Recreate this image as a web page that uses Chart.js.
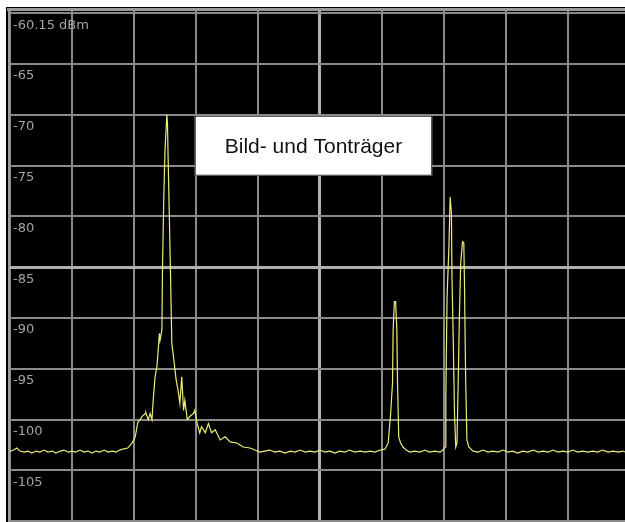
<!DOCTYPE html>
<html>
<head>
<meta charset="utf-8">
<script src="https://cdn.jsdelivr.net/npm/chart.js@4/dist/chart.umd.min.js"></script>
<style>
html,body{margin:0;padding:0;background:#fff;}
#wrap{position:absolute;left:0;top:0;width:625px;height:522px;}
</style>
</head>
<body>
<div id="wrap"><canvas id="c" width="625" height="522"></canvas></div>
<script>
// Sweep bins (1000 bins over 10 divisions)
const bins = [0,6,11,16,23,29,35,42,48,55,61,68,74,81,87,94,100,106,113,119,126,132,139,145,152,158,165,171,177,182,190,197,202,206,213,218,219,223,226,229,231,234,237,241,242,245,246,248,250,253,254,255,257,259,261,265,268,271,274,277,280,282,286,290,296,298,302,306,309,315,320,325,331,339,347,355,366,376,387,395,403,411,419,427,435,444,452,460,468,476,484,492,500,508,516,524,532,540,548,556,565,573,581,589,597,605,610,614,617,618,620,622,624,625,627,630,634,639,645,653,661,669,677,685,694,698,702,703,705,708,710,712,713,715,717,719,721,723,725,727,730,732,733,735,737,740,747,755,763,771,779,787,795,803,811,819,827,835,844,852,860,868,876,884,892,900,908,916,924,932,940,948,956,965,973,981,989,992];
// Level in dBm
const levels = [-103.1,-103.0,-102.8,-103.1,-103.2,-103.1,-103.3,-103.1,-103.2,-103.0,-103.2,-103.1,-103.3,-103.1,-103.0,-103.2,-103.1,-103.2,-103.0,-103.2,-103.1,-103.3,-103.1,-103.2,-103.0,-103.2,-103.1,-103.2,-103.0,-102.9,-102.8,-102.3,-101.7,-100.3,-99.7,-99.4,-99.3,-100.0,-99.4,-100.0,-98.1,-95.8,-94.8,-91.5,-92.2,-91.2,-85.0,-78.4,-73.5,-70.0,-70.8,-74.1,-80.0,-85.9,-92.5,-94.5,-96.1,-97.1,-98.4,-95.8,-99.1,-98.1,-100.0,-99.7,-99.4,-99.1,-100.4,-101.3,-100.7,-101.3,-100.4,-101.3,-101.0,-102.0,-101.7,-102.2,-102.3,-102.7,-102.8,-103.0,-103.2,-103.1,-103.0,-103.2,-103.1,-103.3,-103.1,-103.2,-103.0,-103.2,-103.1,-103.2,-103.0,-103.2,-103.1,-103.3,-103.1,-103.2,-103.0,-103.2,-103.1,-103.2,-103.1,-103.2,-103.0,-102.9,-102.3,-99.4,-96.4,-91.2,-88.4,-88.4,-91.2,-96.1,-101.7,-102.3,-102.7,-103.0,-103.2,-103.1,-103.2,-103.0,-103.2,-103.1,-103.2,-103.0,-102.7,-97.8,-87.9,-83.0,-78.1,-79.7,-86.3,-92.2,-99.4,-102.7,-102.3,-96.1,-89.5,-84.6,-82.5,-82.6,-86.3,-96.1,-102.0,-102.7,-103.1,-103.2,-103.0,-103.2,-103.1,-103.2,-103.0,-103.2,-103.1,-103.3,-103.1,-103.2,-103.0,-103.2,-103.1,-103.2,-103.0,-103.2,-103.1,-103.2,-103.0,-103.2,-103.1,-103.2,-103.1,-103.2,-103.0,-103.2,-103.1,-103.2,-103.1,-103.2];
const yTickValues = [-60,-65,-70,-75,-80,-85,-90,-95,-100,-105,-110];
const yTickLabels = ["-60.15 dBm","-65","-70","-75","-80","-85","-90","-95","-100","-105",""];
const xTickValues = [0,100,200,300,400,500,600,700,800,900];
const annotationText = "Bild- und Tonträger";

const framePlugin = {
  id:'frame',
  beforeDraw(chart){
    const ctx = chart.ctx, a = chart.chartArea;
    ctx.save();
    ctx.fillStyle = '#000';
    ctx.fillRect(a.left-4, a.top-3, chart.width-(a.left-4), chart.height-(a.top-3));
    ctx.restore();
  },
  afterDraw(chart){
    const ctx = chart.ctx, a = chart.chartArea, ys = chart.scales.y, xs = chart.scales.x;
    ctx.save();
    // top and left frame
    ctx.fillStyle = '#9a9a9a';
    ctx.fillRect(a.left-3, a.top-2, chart.width, 3);
    ctx.fillRect(a.left-2, a.top-2, 2, chart.height);
    // y labels inside plot
    ctx.fillStyle = '#a4a4a4';
    ctx.font = '13px "DejaVu Sans", sans-serif';
    ctx.textBaseline = 'middle';
    ctx.textAlign = 'left';
    yTickValues.forEach((v,i)=>{
      if(!yTickLabels[i]) return;
      ctx.fillText(yTickLabels[i], a.left+3, ys.getPixelForValue(v)+12);
    });
    // annotation box
    const x0 = xs.getPixelForValue(298), x1 = xs.getPixelForValue(681);
    const y0 = ys.getPixelForValue(-70.1), y1 = ys.getPixelForValue(-76.0);
    ctx.fillStyle = '#fff';
    ctx.fillRect(x0, y0, x1-x0, y1-y0);
    ctx.strokeStyle = '#333';
    ctx.lineWidth = 1;
    ctx.strokeRect(x0+0.5, y0+0.5, x1-x0-1, y1-y0-1);
    ctx.fillStyle = '#111';
    ctx.font = '21px "Liberation Sans", Arial, sans-serif';
    ctx.textAlign = 'center';
    ctx.fillText(annotationText, (x0+x1)/2, (y0+y1)/2+1);
    ctx.restore();
  }
};

new Chart(document.getElementById('c'), {
  type:'line',
  data:{
    datasets:[{
      data: bins.map((b,i)=>({x:b, y:levels[i]})),
      borderColor:'#ecec78',
      borderWidth:1.2,
      pointRadius:0,
      tension:0,
      fill:false
    }]
  },
  options:{
    responsive:false,
    animation:false,
    devicePixelRatio:1,
    layout:{padding:{left:10,top:10,right:0,bottom:0}},
    plugins:{legend:{display:false},tooltip:{enabled:false}},
    scales:{
      x:{
        type:'linear', min:0, max:992,
        afterBuildTicks(s){ s.ticks = xTickValues.map(v=>({value:v})); },
        ticks:{display:false},
        border:{display:false},
        grid:{
          drawTicks:false,
          color:(c)=> c.tick && c.tick.value===500 ? '#b0b0b0' : '#8a8a8a',
          lineWidth:(c)=> c.tick && c.tick.value===500 ? 3 : 2
        }
      },
      y:{
        type:'linear', min:-110.08, max:-59.69,
        afterBuildTicks(s){ s.ticks = yTickValues.map(v=>({value:v})); },
        ticks:{display:false},
        border:{display:false},
        grid:{
          drawTicks:false,
          color:(c)=> c.tick && c.tick.value===-85 ? '#b0b0b0' : '#8a8a8a',
          lineWidth:(c)=> c.tick && c.tick.value===-85 ? 3 : 2
        }
      }
    }
  },
  plugins:[framePlugin]
});
</script>
</body>
</html>
